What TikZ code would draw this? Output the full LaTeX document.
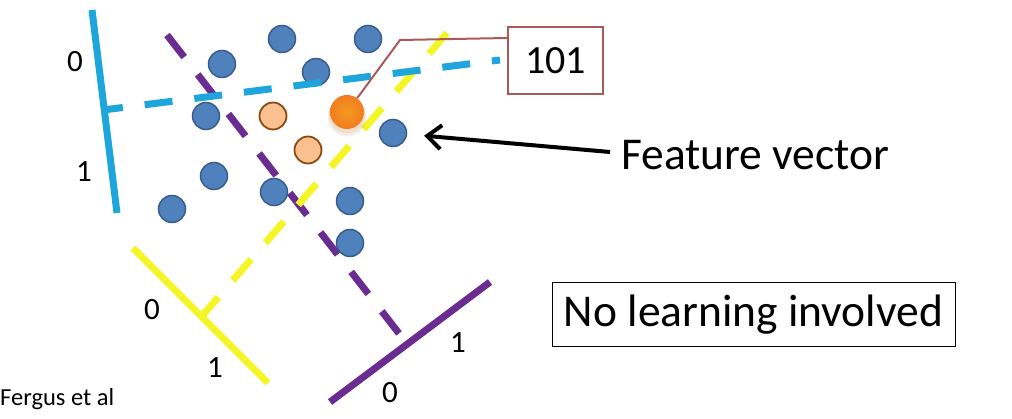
\documentclass[tikz,border=0pt]{standalone}
\usepackage{fontspec}
\setmainfont{Carlito}
\usetikzlibrary{arrows.meta,calc}
\definecolor{cyanL}{HTML}{1EA6DC}
\definecolor{purpL}{HTML}{6A2C91}
\definecolor{yelL}{HTML}{F5F526}
\definecolor{dotfill}{HTML}{4F81BD}
\definecolor{dotedge}{HTML}{385D8A}
\definecolor{pchfill}{HTML}{FAC090}
\definecolor{pchedge}{HTML}{8A4A10}
\definecolor{orng}{HTML}{F08A24}
\definecolor{callout}{HTML}{A85A58}
\begin{document}
\begin{tikzpicture}[x=1pt,y=-1pt,
  axisline/.style={line width=7pt},
  splitline/.style={line width=7pt, dash pattern=on 28pt off 22pt},
  dot/.style={circle, fill=dotfill, draw=dotedge, line width=1.5pt, minimum size=27pt, inner sep=0pt},
  pdot/.style={circle, fill=pchfill, draw=pchedge, line width=1.8pt, minimum size=27pt, inner sep=0pt},
  bit/.style={font=\fontsize{31}{31}\selectfont, inner sep=0pt},
  ]
\useasboundingbox (0,0) rectangle (1012,419);

% coordinates of the split lines
\coordinate (ct) at (92,10);
\coordinate (cb) at (117,213);
\coordinate (cs) at (103,110);
\coordinate (ce) at (500,60);
\coordinate (yt) at (133,248);
\coordinate (yb) at (268,383);
\coordinate (ys) at (202,316);
\coordinate (ye) at (447,33);
\coordinate (pl) at (330,402);
\coordinate (pr) at (490,282);
\coordinate (ps) at (167,35);
\coordinate (pe) at (401,336);

% purple and yellow
\draw[axisline, purpL] (pl) -- (pr);
\draw[splitline, purpL] (ps) -- (pe);
\draw[axisline, yelL] (yt) -- (yb);
\draw[splitline, yelL, dash phase=3pt] (ys) -- (ye);
\draw[axisline, cyanL] (ct) -- (cb);

% points
\node[dot] (d1) at (282,39) {};
\node[dot] (d2) at (368,39) {};
\node[dot] (d3) at (222,64) {};
\node[dot] (d4) at (316,72) {};
\node[dot] (d5) at (206,116) {};
\node[dot] (d6) at (393,133) {};
\node[dot] (d7) at (214,176) {};
\node[dot] (d8) at (274,192) {};
\node[dot] (d9) at (172,209) {};
\node[dot] (d10) at (350,201) {};
\node[dot] (d11) at (350,243) {};
\node[pdot] (p1) at (273,116) {};
\node[pdot] (p2) at (308,150) {};

\draw[splitline, cyanL, dash phase=8pt] (cs) -- (ce);

% callout
\node[draw=callout, line width=2pt, minimum width=95pt, minimum height=67pt, inner sep=0pt,
      font=\fontsize{40}{40}\selectfont] (code) at (555.5,60.5) {101};
\coordinate (bend) at (400,40);
\coordinate (cj) at ($(code.north west)+(0,12)$);
\fill[orng!70!black, opacity=0.10] (347,117) circle (19.5pt);
\fill[orng!70!black, opacity=0.12] (347,115.5) circle (18pt);
\node[circle, minimum size=34pt, inner sep=0pt, inner color=orng!85!yellow, outer color=orng!90!red] (q) at (347,112) {};
\draw[callout, line width=2pt] (cj) -- (bend) -- (q);

% bit labels
\node[bit] (c0) at (75,62) {0};
\node[bit] (c1) at (84,172) {1};
\node[bit] (y0) at (152,310) {0};
\node[bit] (y1) at (215,368) {1};
\node[bit] (p1l) at (458,343) {1};
\node[bit] (p0l) at (390,393) {0};

% feature vector
\node[font=\fontsize{45.5}{45.5}\selectfont, anchor=west, inner sep=0pt] (fv) at (621,155) {Feature vector};
\draw[line width=4pt, -{Straight Barb[length=14pt,width=24pt,line width=4pt]}, shorten >=17pt]
  ($(fv.west)+(-11,-3)$) -- (d6);

\node[draw=black, line width=1pt, minimum width=403pt, minimum height=64pt, inner sep=0pt,
      font=\fontsize{45.5}{45.5}\selectfont] (nl) at (753.5,315) {No learning involved};

\node[anchor=west, inner sep=0pt, font=\fontsize{24.5}{24.5}\selectfont] (src) at (0,399) {Fergus et al};
\end{tikzpicture}
\end{document}
